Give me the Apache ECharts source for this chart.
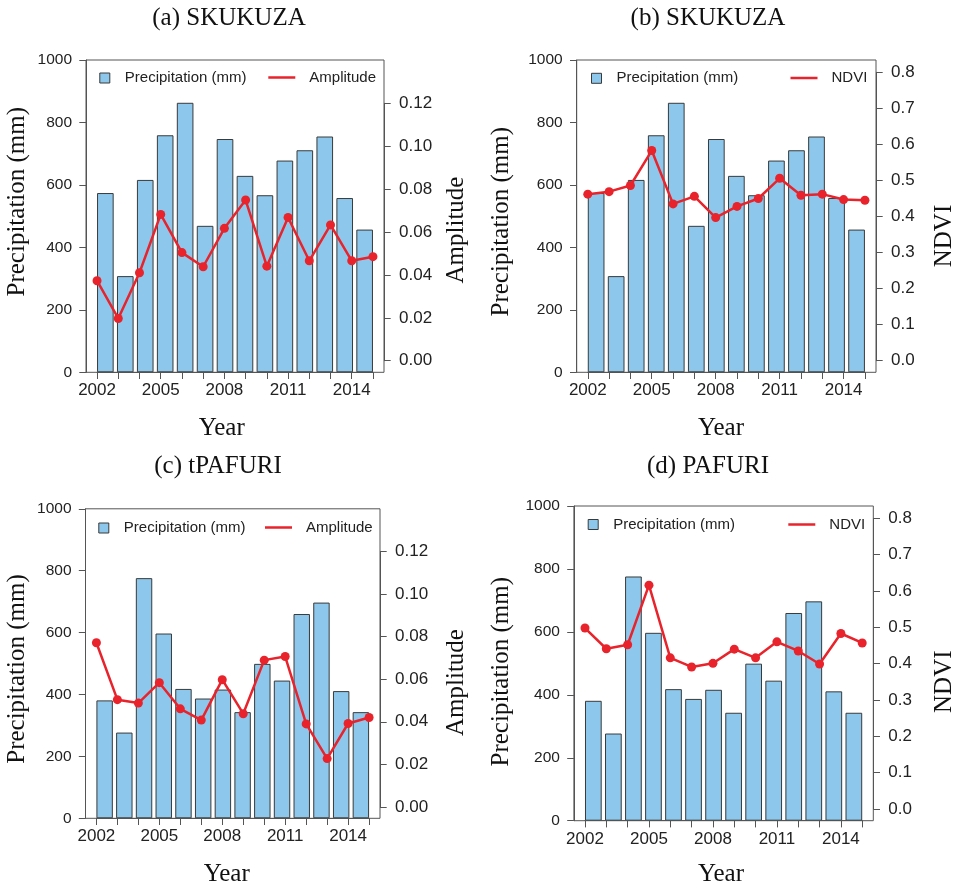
<!DOCTYPE html>
<html>
<head>
<meta charset="utf-8">
<script src="https://cdn.jsdelivr.net/npm/echarts@6/dist/echarts.min.js"></script>
<style>
html,body{margin:0;padding:0;background:#ffffff;}
#chart{width:957px;height:889px;}
</style>
</head>
<body>
<div id="chart"></div>
<script>
// ---------------- data ----------------
const years = ['2002','2003','2004','2005','2006','2007','2008','2009','2010','2011','2012','2013','2014','2015'];
const xTickLabels = ['2002','2005','2008','2011','2014'];
const precipSkukuza = [574, 308, 616, 759, 863, 469, 747, 629, 567, 678, 711, 755, 558, 457];
const precipPafuri  = [381, 277, 776, 597, 418, 387, 416, 343, 499, 445, 660, 697, 411, 343];
const amplitudeSkukuza = [0.0373, 0.0197, 0.0410, 0.0682, 0.0504, 0.0438, 0.0617, 0.0749, 0.0441, 0.0668, 0.0466, 0.0633, 0.0466, 0.0485];
const ndviSkukuza      = [0.462, 0.469, 0.486, 0.583, 0.435, 0.456, 0.397, 0.428, 0.450, 0.506, 0.459, 0.462, 0.447, 0.445];
const amplitudePafuri  = [0.0772, 0.0504, 0.0488, 0.0584, 0.0461, 0.0408, 0.0598, 0.0438, 0.0690, 0.0707, 0.0390, 0.0227, 0.0392, 0.0420];
const ndviPafuri       = [0.498, 0.441, 0.452, 0.616, 0.416, 0.391, 0.401, 0.440, 0.416, 0.460, 0.435, 0.399, 0.483, 0.457];
const precipTicks = {min: 0, max: 1000, interval: 200};
const amplitudeTicks = {min: 0, max: 0.12, interval: 0.02, decimals: 2};
const ndviTicks = {min: 0, max: 0.8, interval: 0.1, decimals: 1};

// ---------------- layout ----------------
const SANS = '"Liberation Sans", Arial, Helvetica, sans-serif';
const SERIF = '"Liberation Serif", "Times New Roman", serif';
const RED = '#E8232B';
const BAR = '#8DC8EC';
const BAR_EDGE = '#3a3a3a';
const AXIS = '#555555';
const TXT = '#222222';

const panels = [
  {title:'(a) SKUKUZA', precip:precipSkukuza, line:amplitudeSkukuza, lineName:'Amplitude', ticks:amplitudeTicks,
   box:{l:86, r:384, t:60, b:372.3}, ryT:103.3,
   titlePos:[229, 18.5], yearPos:[221.7, 428], leftTitlePos:[17.5, 201.7], rightTitlePos:[456, 230],
   legBar:[99.3, 79], legLine:[268.3, 78.5]},
  {title:'(b) SKUKUZA', precip:precipSkukuza, line:ndviSkukuza, lineName:'NDVI', ticks:ndviTicks,
   box:{l:576.7, r:876, t:60, b:372.3}, ryT:72.3,
   titlePos:[708, 18.5], yearPos:[721, 428], leftTitlePos:[501, 221.7], rightTitlePos:[944, 236],
   legBar:[591, 79.3], legLine:[790.5, 79]},
  {title:'(c) tPAFURI', precip:precipPafuri, line:amplitudePafuri, lineName:'Amplitude', ticks:amplitudeTicks,
   box:{l:85.5, r:380, t:508.8, b:818.3}, ryT:551.7,
   titlePos:[218, 466], yearPos:[226.7, 874], leftTitlePos:[17.5, 669], rightTitlePos:[456, 682.5],
   legBar:[98.3, 529], legLine:[265, 528.5]},
  {title:'(d) PAFURI', precip:precipPafuri, line:ndviPafuri, lineName:'NDVI', ticks:ndviTicks,
   box:{l:573.9, r:873.3, t:506, b:820.7}, ryT:518.3,
   titlePos:[708, 466], yearPos:[721, 874], leftTitlePos:[501.7, 671.7], rightTitlePos:[944, 681.7],
   legBar:[587.7, 525.5], legLine:[788.3, 525.5]}
];

const grid = [], xAxis = [], yAxis = [], series = [], legend = [], graphic = [];
const tickStyle = {color: AXIS, width: 1};
const axisLine = {show: true, onZero: false, lineStyle: tickStyle};
const hiddenAxis = (gi, type, extra) => Object.assign({gridIndex: gi, type: type, show: false,
  axisLine: {show: false, onZero: false}, axisTick: {show: false}, axisLabel: {show: false},
  splitLine: {show: false}}, extra || {});

panels.forEach((p, k) => {
  const W = p.box.r - p.box.l, H = p.box.b - p.box.t;
  const inset = 0.037037 * W;
  const x0 = p.box.l + inset, x1 = p.box.r - inset;
  const ry0 = p.box.b - 0.037037 * H;
  const period = (x1 - x0) / (14 - 1/6);
  const gap = period / 6;
  const barLeft = x0 - gap / 2;
  // right-axis scale extended to the full box height
  const pxPerUnit = (ry0 - p.ryT) / p.ticks.max;
  const rMin = -(p.box.b - ry0) / pxPerUnit;
  const rMax = p.ticks.max + (p.ryT - p.box.t) / pxPerUnit;

  const g0 = grid.length;
  // A: plot box
  grid.push({left: p.box.l, top: p.box.t, width: W, height: H, show: true,
             borderColor: AXIS, borderWidth: 1, backgroundColor: 'transparent', z: 3});
  // B: line grid (x: points 2002..2015, full box height)
  grid.push({left: x0, top: p.box.t, width: x1 - x0, height: H});
  // C: bar grid
  grid.push({left: barLeft, top: p.box.t, width: period * 14, height: H});
  // D: right axis tick range
  grid.push({left: x0, top: p.ryT, width: x1 - x0, height: ry0 - p.ryT});

  const a0 = xAxis.length;
  // A
  xAxis.push(hiddenAxis(g0, 'value', {min: 0, max: 1}));
  yAxis.push(hiddenAxis(g0, 'value', {min: 0, max: 1}));
  // B
  xAxis.push({gridIndex: g0 + 1, type: 'category', data: years, boundaryGap: false, position: 'bottom',
    axisLine: axisLine,
    axisTick: {show: true, interval: 0, length: 6.7, lineStyle: tickStyle},
    axisLabel: {interval: (i, v) => xTickLabels.indexOf(v) >= 0, fontFamily: SANS, fontSize: 17, color: TXT, margin: 10},
    splitLine: {show: false}});
  yAxis.push(hiddenAxis(g0 + 1, 'value', {min: rMin, max: rMax}));
  // C
  xAxis.push(hiddenAxis(g0 + 2, 'category', {data: years}));
  yAxis.push({gridIndex: g0 + 2, type: 'value', position: 'left', offset: barLeft - p.box.l,
    min: precipTicks.min, max: precipTicks.max, interval: precipTicks.interval,
    axisLine: axisLine,
    axisTick: {show: true, length: 6.7, lineStyle: tickStyle},
    axisLabel: {formatter: v => String(v), fontFamily: SANS, fontSize: 15.5, color: TXT, margin: 14},
    splitLine: {show: false}});
  // D
  xAxis.push(hiddenAxis(g0 + 3, 'value', {min: 0, max: 1}));
  yAxis.push({gridIndex: g0 + 3, type: 'value', position: 'right', offset: p.box.r - x1,
    min: p.ticks.min, max: p.ticks.max, interval: p.ticks.interval,
    axisLine: axisLine,
    axisTick: {show: true, length: 6.7, lineStyle: tickStyle},
    axisLabel: {formatter: v => v.toFixed(p.ticks.decimals), fontFamily: SANS, fontSize: 17, color: TXT, margin: 15},
    splitLine: {show: false}});

  series.push({type: 'bar', name: 'Precipitation (mm)', xAxisIndex: a0 + 2, yAxisIndex: a0 + 2,
    data: p.precip, barCategoryGap: '16.667%',
    itemStyle: {color: BAR, borderColor: BAR_EDGE, borderWidth: 1}, silent: true, z: 2});
  series.push({type: 'line', name: p.lineName, xAxisIndex: a0 + 1, yAxisIndex: a0 + 1,
    data: p.line, symbol: 'circle', symbolSize: 9,
    lineStyle: {color: RED, width: 2.5}, itemStyle: {color: RED}, silent: true, z: 5});

  legend.push({data: [{name: 'Precipitation (mm)', icon: 'rect'}], left: p.legBar[0], top: p.legBar[1] - 8.5, padding: 0,
    itemWidth: 10, itemHeight: 10, selectedMode: false,
    itemStyle: {color: BAR, borderColor: BAR_EDGE, borderWidth: 1},
    textStyle: {fontFamily: SANS, fontSize: 15, color: TXT, padding: [0, 0, 0, 10]}});
  legend.push({data: [{name: p.lineName, icon: 'rect'}], left: p.legLine[0], top: p.legLine[1] - 8.5, padding: 0,
    itemWidth: 27, itemHeight: 2.5, selectedMode: false,
    itemStyle: {color: RED, borderWidth: 0},
    textStyle: {fontFamily: SANS, fontSize: 15, color: TXT, padding: [0, 0, 0, 9]}});

  const txt = (s, pos, rot) => ({type: 'text', x: pos[0], y: pos[1], rotation: rot || 0, silent: true,
    style: {text: s, font: '25px ' + SERIF, fill: '#111', align: 'center', verticalAlign: 'middle'}});
  graphic.push(txt(p.title, p.titlePos));
  graphic.push(txt('Year', p.yearPos));
  graphic.push(txt('Precipitation (mm)', p.leftTitlePos, Math.PI / 2));
  graphic.push(txt(p.lineName, p.rightTitlePos, Math.PI / 2));
});

const chart = echarts.init(document.getElementById('chart'), null, {renderer: 'canvas'});
chart.setOption({
  animation: false,
  backgroundColor: '#ffffff',
  grid, xAxis, yAxis, series, legend,
  graphic: {elements: graphic}
});
</script>
</body>
</html>
